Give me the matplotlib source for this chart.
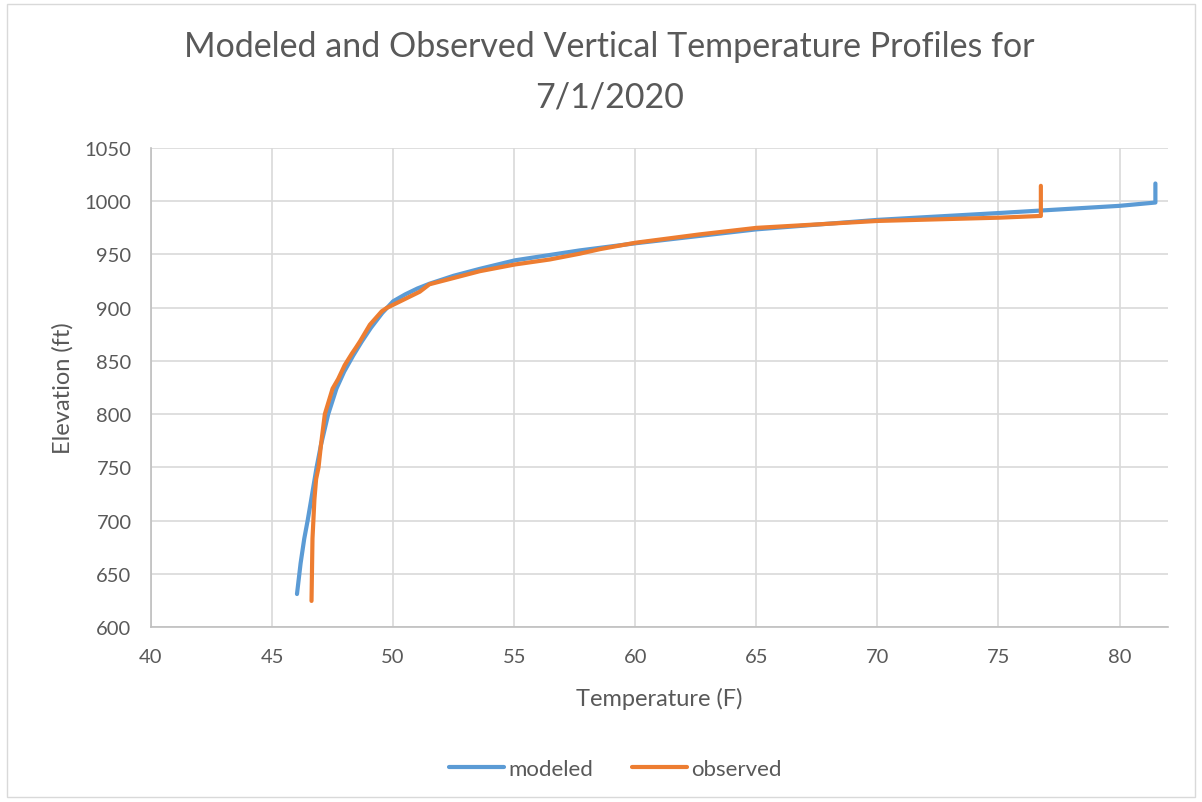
import matplotlib.pyplot as plt
from matplotlib.patches import Rectangle

plt.rcParams['font.family'] = ['Lato', 'DejaVu Sans']

# modeled profile (temperature F, elevation ft)
mod_temp = [46.03, 46.18, 46.33, 46.47, 46.62, 46.84, 47.02, 47.32, 47.66, 47.98, 48.35, 48.7,
            49.08, 49.55, 50.0, 50.5, 51.0, 51.5, 52.5, 53.58, 55.03, 57.7, 60.0,
            65.0, 70.0, 75.06, 80.0, 81.48, 81.48]
mod_elev = [631, 660, 683, 700, 720, 750, 771, 800, 824, 840, 855, 868,
            881, 895, 906, 912.5, 918, 922.5, 930, 936.5, 944.5, 953.8, 960.5,
            973.6, 982.5, 989, 995.7, 998.8, 1016.7]

# observed profile
obs_temp = [46.63, 46.67, 46.75, 46.82, 46.92, 47.02, 47.18, 47.5, 47.73, 48.0, 48.3, 48.45,
            48.63, 49.04, 49.53, 49.73, 51.1, 51.5, 53.58, 55.03, 56.47, 57.7, 58.54, 60.0,
            62.67, 65.0, 70.0, 75.06, 76.75, 76.75]
obs_elev = [624.5, 683, 720, 739, 750, 771, 800, 824, 833, 846, 857, 862,
            868.3, 884, 896.6, 899.7, 915, 922, 934.3, 940.6, 945.3, 950.7, 955, 961,
            968.9, 975, 981.5, 984.6, 986.2, 1014.5]

x_ticks = list(range(40, 85, 5))
y_ticks = list(range(600, 1100, 50))

fig = plt.figure(figsize=(12.02, 8.03), dpi=100)
ax = fig.add_axes([0.1256, 0.2179, 0.9717 - 0.1256, 0.8144 - 0.2179])

ax.plot(mod_temp, mod_elev, color='#5B9BD5', lw=3, solid_capstyle='round',
        solid_joinstyle='round', label='modeled', zorder=3)
ax.plot(obs_temp, obs_elev, color='#ED7D31', lw=3, solid_capstyle='round',
        solid_joinstyle='round', label='observed', zorder=4)

ax.set_xlim(40, 82)
ax.set_ylim(600, 1050)
ax.set_xticks(x_ticks)
ax.set_yticks(y_ticks)
ax.grid(True, color='#D9D9D9', lw=1.2, zorder=0)
ax.set_axisbelow(True)
for s in ['top', 'right']:
    ax.spines[s].set_visible(False)
for s in ['left', 'bottom']:
    ax.spines[s].set_color('#BFBFBF')
    ax.spines[s].set_linewidth(1.2)
ax.tick_params(length=0, labelsize=14.5, labelcolor='#595959')
ax.tick_params(axis='x', pad=15)
ax.tick_params(axis='y', pad=14)

ax.set_xlabel('Temperature (F)', fontsize=17, color='#595959', labelpad=16)
ax.set_ylabel('Elevation (ft)', fontsize=17, color='#595959', labelpad=8)

fig.text(0.507, 0.941, 'Modeled and Observed Vertical Temperature Profiles for',
         ha='center', va='center', fontsize=24.5, color='#595959')
fig.text(0.507, 0.879, '7/1/2020',
         ha='center', va='center', fontsize=24.5, color='#595959')

fig.legend(loc='center', bbox_to_anchor=(0.512, 0.041), ncol=2, frameon=False,
           fontsize=16, labelcolor='#595959', handlelength=2.5, columnspacing=1.7,
           handletextpad=0.2)

fig.patches.append(Rectangle((0.006, 0.006), 0.988, 0.988, transform=fig.transFigure,
                             fill=False, edgecolor='#D9D9D9', lw=1))

fig.savefig('out.png', dpi=100)
